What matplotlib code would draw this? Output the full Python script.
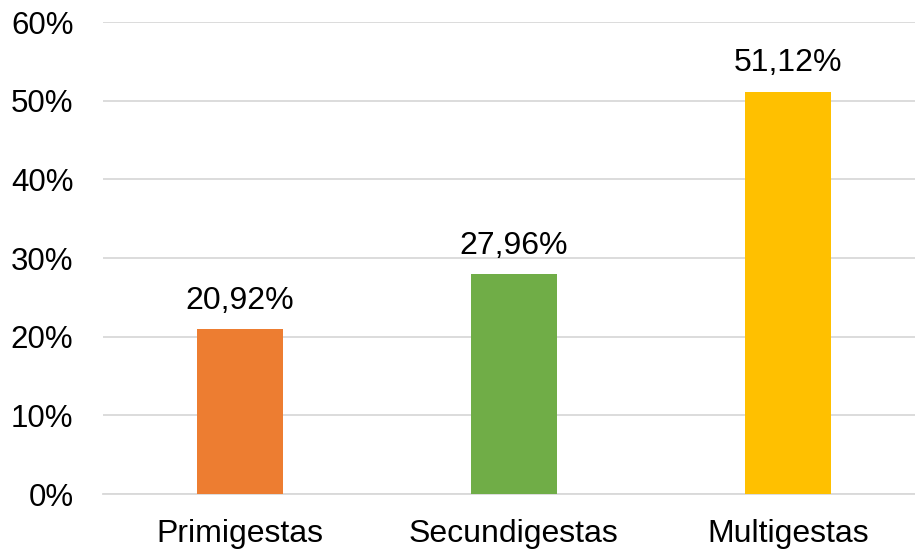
import matplotlib.pyplot as plt
from matplotlib.ticker import FuncFormatter

plt.rcParams['font.family'] = ['Liberation Sans', 'DejaVu Sans']

categorias = ['Primigestas', 'Secundigestas', 'Multigestas']
porcentajes = [20.92, 27.96, 51.12]
colores = ['#ED7D31', '#70AD47', '#FFC000']
yticks = [0, 10, 20, 30, 40, 50, 60]

fig = plt.figure(figsize=(9.15, 5.51), dpi=100)
ax = fig.add_axes([102.6 / 915, 57 / 551, 822.6 / 915, 472 / 551])

x = range(len(categorias))
barras = ax.bar(x, porcentajes, width=0.314, color=colores, zorder=3)

for xi, v in zip(x, porcentajes):
    ax.text(xi, v + 1.7, f'{v:.2f}%'.replace('.', ','), ha='center', va='bottom',
            fontsize=23, color='black')

ax.set_xlim(-0.5, 2.5)
ax.set_ylim(0, 60)
ax.set_yticks(yticks)
ax.yaxis.set_major_formatter(FuncFormatter(lambda v, p: f'{int(v)}%'))
ax.set_xticks(list(x))
ax.set_xticklabels(categorias)
ax.tick_params(axis='y', length=0, pad=21, labelsize=22.5)
ax.tick_params(axis='x', length=0, pad=18, labelsize=23)
ax.grid(axis='y', color='#D9D9D9', linewidth=1.3, zorder=0)
for lado in ['top', 'right', 'left']:
    ax.spines[lado].set_visible(False)
ax.spines['bottom'].set_color('#D9D9D9')
ax.spines['bottom'].set_linewidth(1.3)

fig.savefig('out.png', dpi=100)
